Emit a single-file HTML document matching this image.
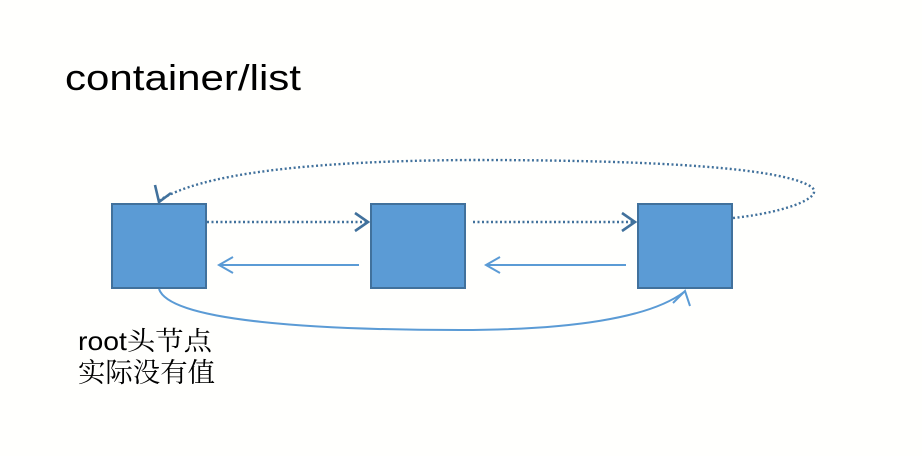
<!DOCTYPE html>
<html><head><meta charset="utf-8"><style>
html,body{margin:0;padding:0;background:#fffffd;}
svg{display:block;}
</style></head><body>
<svg width="922" height="456" viewBox="0 0 922 456" xmlns="http://www.w3.org/2000/svg">
<rect width="922" height="456" fill="#fffffd"/>
<text x="65" y="90" font-family="Liberation Sans, sans-serif" font-size="36" fill="#000" textLength="236" lengthAdjust="spacingAndGlyphs">container/list</text>
<text x="78" y="350" font-family="Liberation Sans, 'Noto Serif CJK SC', serif" font-size="26" fill="#000" textLength="134" lengthAdjust="spacingAndGlyphs">root<tspan font-family="'Noto Serif CJK SC', serif">头节点</tspan></text>
<text x="78" y="382" font-family="'Noto Serif CJK SC', serif" font-size="27" fill="#000" textLength="137" lengthAdjust="spacingAndGlyphs">实际没有值</text>
<g fill="#5b9bd5" stroke="#41719c" stroke-width="2">
<rect x="112" y="204" width="94" height="84"/>
<rect x="371" y="204" width="94" height="84"/>
<rect x="638" y="204" width="94" height="84"/>
</g>
<g fill="none" stroke="#41719c" stroke-width="2.4" stroke-dasharray="2,2.5">
<path d="M207,222 L366,222"/>
<path d="M473,222 L633,222"/>
<path d="M733,218 C790,212 830,195 808,185 C770,165 620,160 470,160 C300,161 200,175 160,200"/>
</g>
<g fill="none" stroke="#41719c" stroke-width="2.6">
<path d="M355,213 L368,222 L355,231"/>
<path d="M622,213 L635,222 L622,231"/>
<path d="M155,185 L159,202 L171,193"/>
</g>
<g fill="none" stroke="#5b9bd5" stroke-width="2">
<path d="M359,265 L220,265 M233,257 L219,265 L233,273"/>
<path d="M626,265 L487,265 M500,257 L486,265 L500,273"/>
<path d="M159,289 C170,322 320,330 460,330 C570,330 650,318 684,292"/>
<path d="M673,303 L685,291 L690,306"/>
</g>
</svg>
</body></html>
